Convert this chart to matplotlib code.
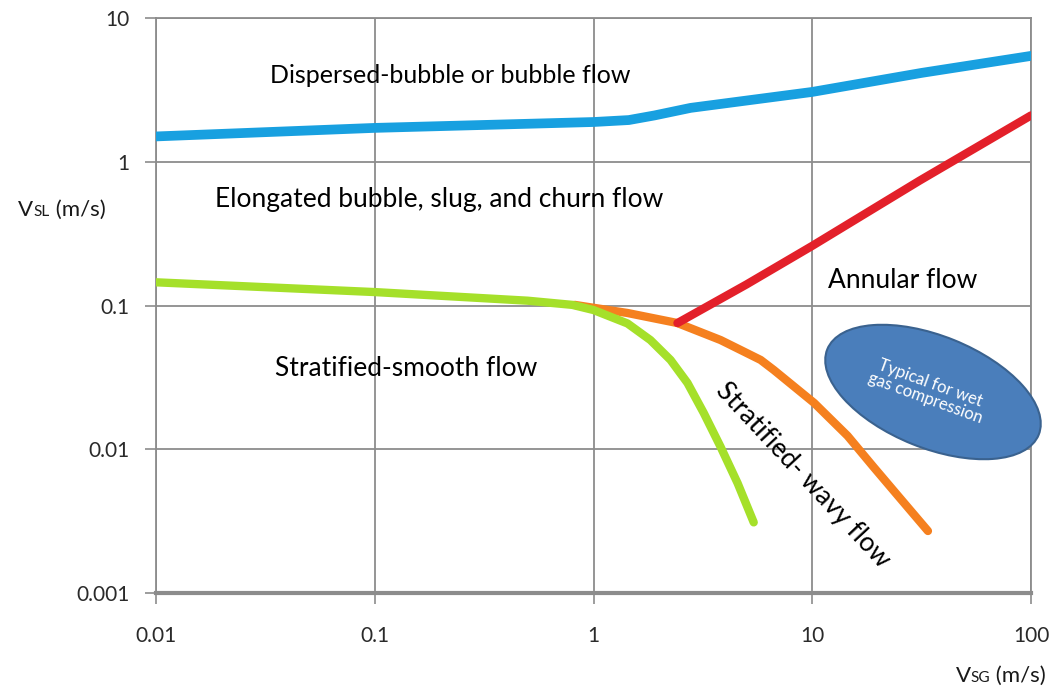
import matplotlib
matplotlib.use('Agg')
import matplotlib.pyplot as plt
from matplotlib.patches import Ellipse
from matplotlib.offsetbox import TextArea, HPacker, AnnotationBbox

plt.rcParams['font.family'] = ['Lato', 'DejaVu Sans']

# Flow regime boundaries
blue_x = [0.01, 0.1, 1.0, 1.45, 1.9, 2.78, 10.0, 31.6, 100.0]
blue_y = [1.5, 1.72, 1.89, 1.95, 2.1, 2.37, 3.06, 4.15, 5.45]

red_x = [2.42, 5.0, 10.0, 31.0, 100.0]
red_y = [0.0755, 0.14, 0.26, 0.74, 2.1]

green_x = [0.01, 0.1, 0.5, 0.8, 1.0, 1.43, 1.82, 2.25, 2.69, 3.19, 3.81, 4.56, 5.4]
green_y = [0.145, 0.124, 0.108, 0.101, 0.093, 0.075, 0.0575, 0.0418, 0.0289, 0.0179, 0.0104, 0.0058, 0.0031]

orange_x = [0.82, 1.43, 2.42, 3.81, 4.71, 5.81, 6.67, 10.2, 14.5, 19.1, 25.4, 33.8]
orange_y = [0.101, 0.0887, 0.0755, 0.0575, 0.049, 0.0418, 0.0356, 0.021, 0.0124, 0.0075, 0.0045, 0.0027]

xticks = [0.01, 0.1, 1, 10, 100]
xtick_labels = ['0.01', '0.1', '1', '10', '100']
yticks = [0.001, 0.01, 0.1, 1, 10]
ytick_labels = ['0.001', '0.01', '0.1', '1', '10']

grid_col = '#8c8c8c'

fig = plt.figure(figsize=(10.53, 6.93), dpi=100)
ax = fig.add_axes([156 / 1053, 1 - 593 / 693, 875 / 1053, 575 / 693])
ax.set_xscale('log')
ax.set_yscale('log')
ax.set_xlim(0.01, 100)
ax.set_ylim(0.001, 10)

ax.plot(blue_x, blue_y, color='#18a0e0', lw=7, solid_capstyle='round', solid_joinstyle='round', zorder=3)
ax.plot(orange_x, orange_y, color='#f5801f', lw=6, solid_capstyle='round', solid_joinstyle='round', zorder=3)
ax.plot(green_x, green_y, color='#a5e02a', lw=6, solid_capstyle='round', solid_joinstyle='round', zorder=4)
ax.plot(red_x, red_y, color='#e3202a', lw=6, solid_capstyle='round', solid_joinstyle='round', zorder=3)

ax.set_xticks(xticks)
ax.set_xticklabels(xtick_labels)
ax.set_yticks(yticks)
ax.set_yticklabels(ytick_labels)
ax.minorticks_off()
ax.tick_params(axis='both', colors=grid_col, length=8, width=1.2, labelcolor='#2a2a2a', labelsize=15)
ax.tick_params(axis='x', pad=16)
ax.tick_params(axis='y', pad=11)
ax.grid(True, color=grid_col, lw=1.3)
for side in ['top', 'right', 'left']:
    ax.spines[side].set_color(grid_col)
    ax.spines[side].set_linewidth(1.3)
ax.spines['bottom'].set_color(grid_col)
ax.spines['bottom'].set_linewidth(3)

# region labels
fs = 19
ax.text(0.336, 0.887, 'Dispersed-bubble or bubble flow', transform=ax.transAxes,
        ha='center', va='baseline', fontsize=18)
ax.text(0.3234, 0.671, 'Elongated bubble, slug, and churn flow', transform=ax.transAxes,
        ha='center', va='baseline', fontsize=fs)
ax.text(0.8537, 0.530, 'Annular flow', transform=ax.transAxes,
        ha='center', va='baseline', fontsize=fs)
ax.text(0.2857, 0.377, 'Stratified-smooth flow', transform=ax.transAxes,
        ha='center', va='baseline', fontsize=fs)
ax.text(0.7394, 0.2052, 'Stratified- wavy flow', transform=ax.transAxes,
        ha='center', va='center', fontsize=fs, rotation=-47, rotation_mode='anchor')

# ellipse (drawn in inches so the rotation is not skewed by the log axes)
ell = Ellipse((9.33, (693 - 392) / 100), 2.28, 1.12, angle=-22,
              transform=fig.dpi_scale_trans, facecolor='#4a7ebb',
              edgecolor='#3a628f', lw=1.5, zorder=5)
fig.add_artist(ell)
fig.text(928 / 1053, 1 - 391 / 693, 'Typical for wet\ngas compression', color='white',
         fontsize=12, ha='center', va='center', rotation=-20, rotation_mode='anchor',
         linespacing=1.0, zorder=6)

# axis labels with small-caps style subscripts
def axis_label(sub, xy):
    box = HPacker(children=[TextArea('V', textprops=dict(fontsize=16, color='#1a1a1a')),
                            TextArea(sub, textprops=dict(fontsize=11, color='#1a1a1a')),
                            TextArea(' (m/s)', textprops=dict(fontsize=16, color='#1a1a1a'))],
                  align='baseline', pad=0, sep=0)
    ab = AnnotationBbox(box, xy, xycoords='figure fraction', frameon=False,
                        box_alignment=(0.5, 0.5))
    fig.add_artist(ab)

axis_label('SL', (62 / 1053, 1 - 210 / 693))
axis_label('SG', (1001 / 1053, 1 - 676 / 693))

fig.savefig('out.png', dpi=100)
